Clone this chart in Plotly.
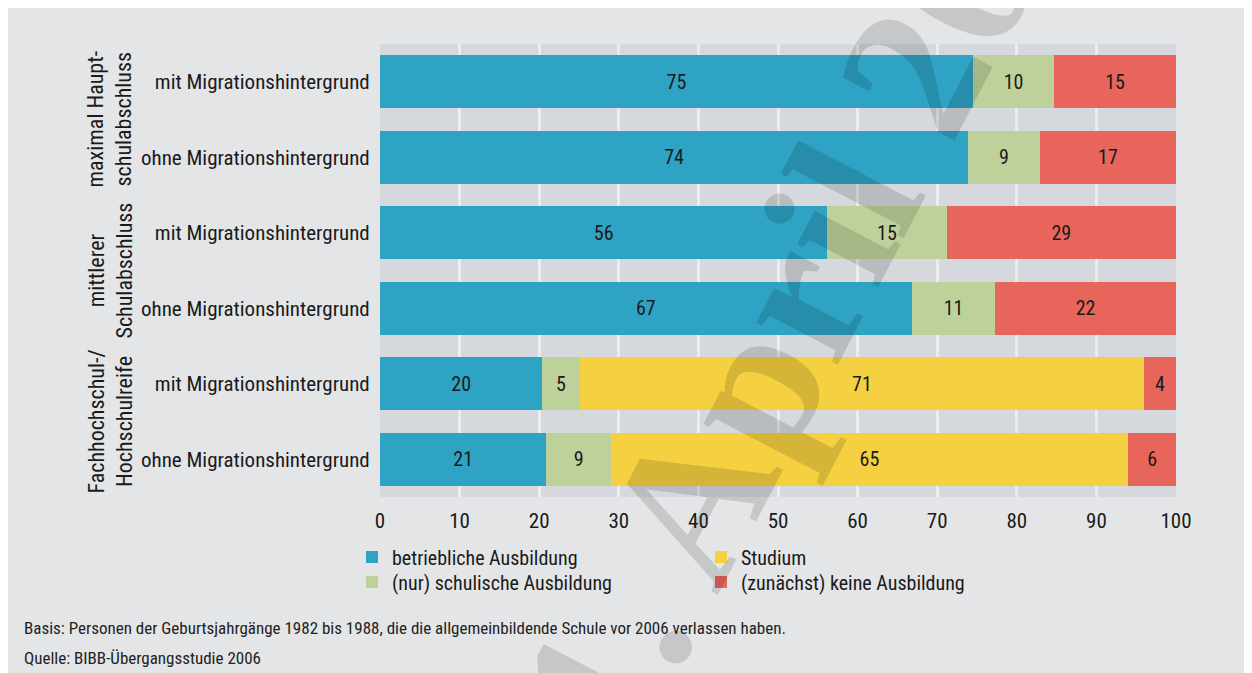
import plotly.graph_objects as go

# ---- data ----
row_labels = [
    "mit Migrationshintergrund", "ohne Migrationshintergrund",
    "mit Migrationshintergrund", "ohne Migrationshintergrund",
    "mit Migrationshintergrund", "ohne Migrationshintergrund",
]
group_labels = ["maximal Haupt-<br>schulabschluss", "mittlerer<br>Schulabschluss",
                "Fachhochschul-/<br>Hochschulreife"]
series_names = ["betriebliche Ausbildung", "(nur) schulische Ausbildung",
                "Studium", "(zunächst) keine Ausbildung"]

# bar lengths (percent, as drawn) and printed labels
betrieblich = [74.5, 73.9, 56.2, 66.8, 20.4, 20.9]
schulisch = [10.2, 9.0, 15.0, 10.5, 4.7, 8.1]
studium = [0, 0, 0, 0, 70.9, 65.0]
keine = [15.3, 17.1, 28.8, 22.7, 4.0, 6.0]

betrieblich_lbl = ["75", "74", "56", "67", "20", "21"]
schulisch_lbl = ["10", "9", "15", "11", "5", "9"]
studium_lbl = ["", "", "", "", "71", "65"]
keine_lbl = ["15", "17", "29", "22", "4", "6"]

x_ticks = [0, 10, 20, 30, 40, 50, 60, 70, 80, 90, 100]

colors = ["#2ea3c4", "#bfd19b", "#f5d040", "#e8655c"]

footnote1 = "Basis: Personen der Geburtsjahrgänge 1982 bis 1988, die die allgemeinbildende Schule vor 2006 verlassen haben."
footnote2 = "Quelle: BIBB-Übergangsstudie 2006"
watermark = "1. April 2008"

FONT = "Liberation Sans Narrow, Roboto Condensed, Open Sans, sans-serif"
TXT = "#1a1a1a"

# ---- layout geometry (pixels) ----
OFF = 8                      # page body margin
W, H = 1252, 673 - OFF
L, T = 380 - OFF, 44 - OFF
R = W - (1176 - OFF)
B = H - (497 - OFF)
PW, PH = W - L - R, H - T - B


def px(sx):
    """screen x (reference pixels) -> paper x"""
    return (sx - OFF - L) / PW


def py(sy):
    """screen y (reference pixels) -> paper y"""
    return (H - B - (sy - OFF)) / PH


y_idx = list(range(len(row_labels)))

fig = go.Figure()
values = [betrieblich, schulisch, studium, keine]
labels = [betrieblich_lbl, schulisch_lbl, studium_lbl, keine_lbl]
legend_ids = ["legend", "legend2", "legend3", "legend4"]
for name, vals, lbls, col, lg in zip(series_names, values, labels, colors, legend_ids):
    fig.add_trace(go.Bar(
        y=y_idx, x=vals, orientation="h", name=name,
        marker=dict(color=col, line=dict(width=0)),
        text=lbls, textposition="inside", insidetextanchor="middle",
        textfont=dict(family=FONT, size=20, color=TXT),
        constraintext="none", legend=lg, hoverinfo="x+name",
    ))

leg_font = dict(family=FONT, size=20, color=TXT)
legend_pos = {  # (screen x of legend left, screen y of row centre)
    "legend": (352, 557),
    "legend2": (352, 582),
    "legend3": (701, 557),
    "legend4": (701, 582),
}
legend_layout = {
    k: dict(x=px(x), y=py(y), xanchor="left", yanchor="middle",
            bgcolor="rgba(0,0,0,0)", font=leg_font, borderwidth=0)
    for k, (x, y) in legend_pos.items()
}

fig.update_layout(
    width=W, height=H,
    margin=dict(l=L, r=R, t=T, b=B, pad=0),
    barmode="stack", bargap=0.3,
    paper_bgcolor="#e4e5e7", plot_bgcolor="#d5d8dc",
    font=dict(family=FONT, size=20, color=TXT),
    xaxis=dict(range=[0, 100], tickvals=x_ticks, showgrid=True,
               gridcolor="#ebecee", gridwidth=3, zeroline=False,
               ticks="outside", ticklen=5, tickcolor="rgba(0,0,0,0)",
               tickfont=dict(family=FONT, size=21, color=TXT), showline=False),
    yaxis=dict(range=[5.5, -0.5], tickvals=y_idx, ticktext=row_labels,
               showgrid=False, zeroline=False, ticks="outside", ticklen=5,
               tickcolor="rgba(0,0,0,0)",
               tickfont=dict(family=FONT, size=21, color=TXT)),
    showlegend=True,
    **legend_layout,
)

# group labels (rotated)
group_centers = [119.5, 270.5, 421.5]
for g, cy in zip(group_labels, group_centers):
    fig.add_annotation(text=g, xref="paper", yref="paper", x=px(110), y=py(cy),
                       xanchor="center", yanchor="middle", textangle=-90,
                       showarrow=False, align="center",
                       font=dict(family=FONT, size=22, color=TXT))

# footnotes
fig.add_annotation(text=footnote1, xref="paper", yref="paper", x=px(22), y=py(628),
                   xanchor="left", yanchor="middle", showarrow=False,
                   font=dict(family=FONT, size=17, color="#222"))
fig.add_annotation(text=footnote2, xref="paper", yref="paper", x=px(22), y=py(658),
                   xanchor="left", yanchor="middle", showarrow=False,
                   font=dict(family=FONT, size=17, color="#222"))

# watermark
fig.add_annotation(text=watermark, xref="paper", yref="paper", x=px(823), y=py(248),
                   xanchor="center", yanchor="middle", textangle=-62.5,
                   showarrow=False,
                   font=dict(family="Liberation Serif, DejaVu Serif, serif", size=200,
                             color="rgba(0,0,0,0.13)", weight=700))

fig.write_html("out.html",
               post_script="document.documentElement.style.overflow='hidden';")
